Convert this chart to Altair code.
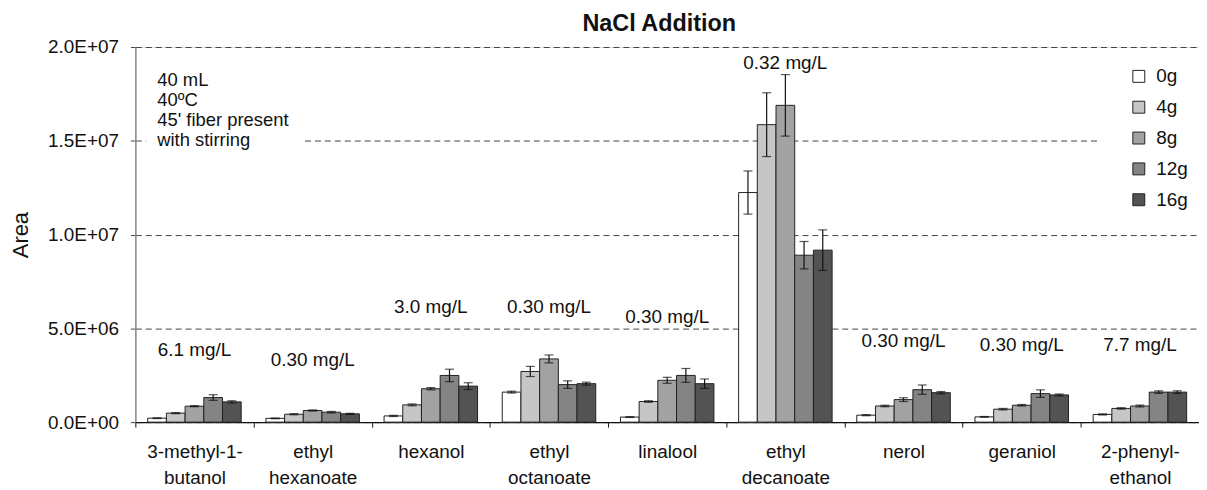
import altair as alt
import pandas as pd

compounds = ["3-methyl-1-|butanol", "ethyl|hexanoate", "hexanol", "ethyl|octanoate",
             "linalool", "ethyl|decanoate", "nerol", "geraniol", "2-phenyl-|ethanol"]
salts = ["0g", "4g", "8g", "12g", "16g"]

# mean peak area (x1e6) per compound, one list per NaCl amount
area_0g = [0.21, 0.20, 0.33, 1.60, 0.27, 12.24, 0.37, 0.28, 0.41]
area_4g = [0.48, 0.42, 0.92, 2.70, 1.10, 15.86, 0.86, 0.69, 0.73]
area_8g = [0.85, 0.62, 1.78, 3.37, 2.23, 16.89, 1.20, 0.90, 0.86]
area_12g = [1.31, 0.53, 2.49, 2.00, 2.49, 8.90, 1.73, 1.52, 1.60]
area_16g = [1.08, 0.44, 1.92, 2.05, 2.05, 9.17, 1.57, 1.45, 1.60]

err_0g = [0.02, 0.02, 0.03, 0.05, 0.02, 1.15, 0.03, 0.02, 0.03]
err_4g = [0.03, 0.03, 0.05, 0.27, 0.04, 1.70, 0.04, 0.04, 0.04]
err_8g = [0.03, 0.03, 0.06, 0.21, 0.16, 1.64, 0.10, 0.04, 0.05]
err_12g = [0.15, 0.04, 0.33, 0.20, 0.37, 0.73, 0.25, 0.20, 0.07]
err_16g = [0.06, 0.03, 0.18, 0.08, 0.25, 1.08, 0.06, 0.05, 0.07]

conc_labels = ["6.1 mg/L", "0.30 mg/L", "3.0 mg/L", "0.30 mg/L", "0.30 mg/L",
               "0.32 mg/L", "0.30 mg/L", "0.30 mg/L", "7.7 mg/L"]
conc_label_y = [3.87, 3.29, 6.15, 6.15, 5.59, 19.16, 4.32, 4.13, 4.13]  # x1e6

y_ticks = [0, 5e6, 1e7, 1.5e7, 2e7]
colors = ["#ffffff", "#c6c6c6", "#a2a2a2", "#848484", "#535353"]
FONT = "Liberation Sans"

areas = [area_0g, area_4g, area_8g, area_12g, area_16g]
errs = [err_0g, err_4g, err_8g, err_12g, err_16g]
rows = []
for s, a_list, e_list in zip(salts, areas, errs):
    for c, a, e in zip(compounds, a_list, e_list):
        rows.append({"compound": c, "salt": s, "area": a * 1e6,
                     "lo": (a - e) * 1e6, "hi": (a + e) * 1e6})
df = pd.DataFrame(rows)

ann = pd.DataFrame({"compound": compounds, "label": conc_labels,
                    "y": [v * 1e6 for v in conc_label_y]})

x_enc = alt.X("compound:N", sort=compounds,
              scale=alt.Scale(paddingInner=0, paddingOuter=0),
              axis=alt.Axis(title=None, labelExpr="split(datum.label, '|')", labelAngle=0,
                            tickBand="extent", labelFontSize=19, labelLineHeight=26,
                            labelPadding=16, tickSize=5, domainColor="#111", tickColor="#111",
                            domainWidth=1.5, labelColor="#111", grid=False, labelFont=FONT))
xo_enc = alt.XOffset("salt:N", sort=salts, scale=alt.Scale(paddingOuter=0.66, paddingInner=0))

y_scale = alt.Scale(domain=[0, 2e7], nice=False)
label_expr = ("datum.value == 0 ? '0.0E+00' : format(datum.value / pow(10, floor(log(datum.value)/LN10 + 1e-9)), '.1f')"
              " + 'E+' + format(floor(log(datum.value)/LN10 + 1e-9), '02d')")

bars = alt.Chart(df).mark_bar(stroke="#222", strokeWidth=1).encode(
    x=x_enc,
    xOffset=xo_enc,
    y=alt.Y("area:Q", scale=y_scale,
            axis=alt.Axis(title="Area", titleFontSize=22, titleFontWeight="normal", titleFont=FONT,
                          titleColor="#111", titlePadding=15, values=y_ticks, labelExpr=label_expr,
                          gridDash=[6, 4], gridColor="#444", gridWidth=1, domainColor="#888",
                          domainWidth=1.5, tickSize=5, tickColor="#444", labelPadding=12,
                          labelFontSize=19, labelFont=FONT, labelColor="#111")),
    color=alt.Color("salt:N", sort=salts, scale=alt.Scale(domain=salts, range=colors),
                    legend=alt.Legend(orient="none", legendX=993, legendY=14, title=None,
                                      symbolType="square", symbolSize=144, symbolStrokeColor="#222",
                                      symbolStrokeWidth=1, labelFontSize=19, labelFont=FONT,
                                      labelColor="#111", rowPadding=11, labelOffset=8,
                                      fillColor="white", padding=6, symbolOpacity=1)),
)

err_rule = alt.Chart(df).mark_rule(color="#111", strokeWidth=1.2).encode(
    x=alt.X("compound:N", sort=compounds), xOffset=alt.XOffset("salt:N", sort=salts),
    y=alt.Y("lo:Q", scale=y_scale), y2="hi:Q")
cap_hi = alt.Chart(df).mark_tick(color="#111", thickness=1.2, size=9).encode(
    x=alt.X("compound:N", sort=compounds), xOffset=alt.XOffset("salt:N", sort=salts),
    y=alt.Y("hi:Q", scale=y_scale))
cap_lo = alt.Chart(df).mark_tick(color="#111", thickness=1.2, size=9).encode(
    x=alt.X("compound:N", sort=compounds), xOffset=alt.XOffset("salt:N", sort=salts),
    y=alt.Y("lo:Q", scale=y_scale))

ann_text = alt.Chart(ann).mark_text(fontSize=19, font=FONT, color="#111", baseline="middle").encode(
    x=alt.X("compound:N", sort=compounds), y=alt.Y("y:Q", scale=y_scale), text="label:N")

note_bg = alt.Chart(pd.DataFrame({"k": [0]})).mark_rect(color="white").encode(
    x=alt.value(11), x2=alt.value(170), y=alt.value(28), y2=alt.value(106))
legend_bg = alt.Chart(pd.DataFrame({"k": [0]})).mark_rect(color="white").encode(
    x=alt.value(969), x2=alt.value(1069), y=alt.value(18), y2=alt.value(165))
note = alt.Chart(pd.DataFrame({"t": ["40 mL\n40ºC\n45' fiber present\nwith stirring"]})).mark_text(
    align="left", baseline="alphabetic", lineBreak="\n", lineHeight=20, fontSize=18.5,
    font=FONT, color="#111").encode(x=alt.value(22), y=alt.value(39), text="t:N")

chart = alt.layer(bars, err_rule, cap_hi, cap_lo, ann_text, note_bg, legend_bg, note).properties(
    width=1069, height=377,
    padding={"left": 128, "top": 38, "right": 0, "bottom": 66},
    autosize=alt.AutoSizeParams(type="none"),
    title=alt.TitleParams("NaCl Addition", fontSize=23.5, font=FONT, fontWeight="bold",
                          anchor="middle", dx=-8, offset=3, color="#111"),
).configure_view(stroke=None).configure(background="white")

chart.save("out.html", embed_options={"renderer": "svg", "actions": False})
